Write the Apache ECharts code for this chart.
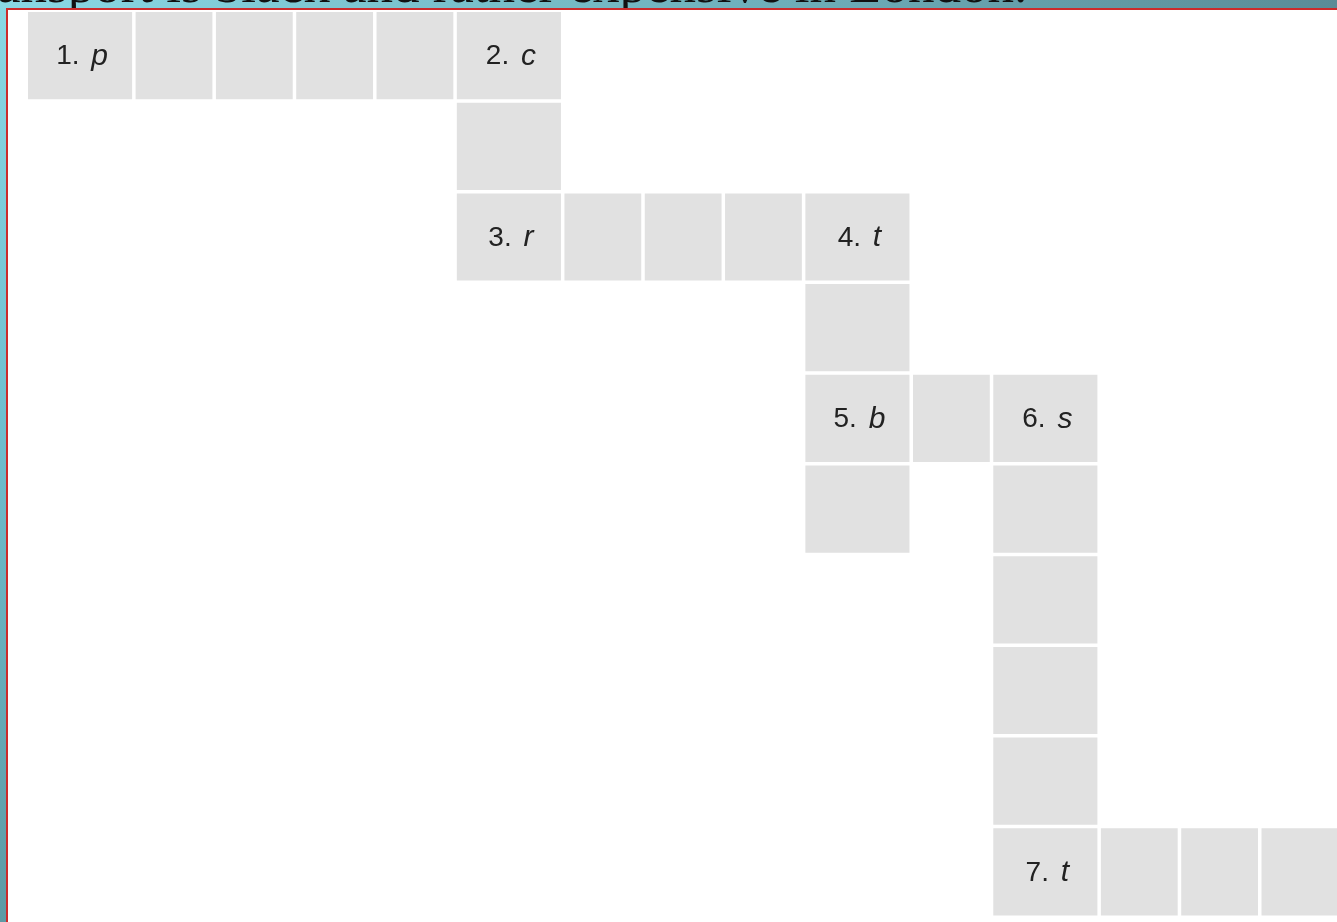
<!DOCTYPE html>
<html>
<head>
<meta charset="utf-8">
<script src="https://cdn.jsdelivr.net/npm/echarts@6/dist/echarts.min.js"></script>
<style>
html, body { margin: 0; padding: 0; overflow: hidden; background: #fff; }
#chart { width: 1337px; height: 922px; }
</style>
</head>
<body>
<div id="chart"></div>
<script>
// crossword cells: row / column of every square
var cellRow = [0, 0, 0, 0, 0, 0, 1, 2, 2, 2, 2, 2, 3, 4, 4, 4, 5, 5, 6, 7, 8, 9, 9, 9, 9];
var cellCol = [0, 1, 2, 3, 4, 5, 5, 5, 6, 7, 8, 9, 9, 9, 10, 11, 9, 11, 11, 11, 11, 11, 12, 13, 14];
// clues: number, first letter and the square that holds them
var clueNum = [1, 2, 3, 4, 5, 6, 7];
var clueLetter = ['p', 'c', 'r', 't', 'b', 's', 't'];
var clueRow = [0, 0, 2, 2, 4, 4, 9];
var clueCol = [0, 5, 5, 9, 9, 11, 11];
var headline = 'ansport is black and rather expensive in London.';

var nRows = 10;
var nCols = 15;
var wideFactor = 1.34; // columns holding a clue label are wider

// column edges in axis units
var colEdges = [0];
for (var c = 0; c < nCols; c++) {
    var w = clueCol.indexOf(c) >= 0 ? wideFactor : 1;
    colEdges.push(colEdges[c] + w);
}

var cellData = [];
for (var i = 0; i < cellRow.length; i++) {
    var label = '';
    for (var k = 0; k < clueNum.length; k++) {
        if (clueRow[k] === cellRow[i] && clueCol[k] === cellCol[i]) {
            label = '{n|' + clueNum[k] + '. }{l|' + clueLetter[k] + '}';
        }
    }
    cellData.push([colEdges[cellCol[i]], colEdges[cellCol[i] + 1], cellRow[i], label]);
}

function renderItem(params, api) {
    var x0 = api.value(0), x1 = api.value(1), r = api.value(2);
    var p0 = api.coord([x0, r]);
    var p1 = api.coord([x1, r + 1]);
    var gap = 3.5;
    var w = p1[0] - p0[0] - gap;
    var h = p1[1] - p0[1] - gap;
    var label = cellData[params.dataIndex][3];
    var children = [{
        type: 'rect',
        shape: { x: p0[0], y: p0[1], width: w, height: h },
        style: { fill: '#e1e1e1' }
    }];
    if (label) {
        children.push({
            type: 'text',
            x: p0[0] + w / 2 + 2,
            y: p0[1] + h / 2 + 1,
            style: {
                text: label,
                align: 'center',
                verticalAlign: 'middle',
                rich: {
                    n: { fontFamily: 'Liberation Sans', fontSize: 28, fill: '#222' },
                    l: { fontFamily: 'Liberation Sans', fontSize: 30, fontStyle: 'italic', fill: '#222', padding: [0, 0, 0, 4] }
                }
            }
        });
    }
    return { type: 'group', children: children };
}

var myChart = echarts.init(document.getElementById('chart'));

var option = {
    animation: false,
    graphic: [
        {
            type: 'rect', z: -10, silent: true,
            shape: { x: 0, y: 0, width: 1337, height: 10 },
            style: {
                fill: new echarts.graphic.LinearGradient(0, 0, 1, 0, [
                    { offset: 0, color: '#8ad8e4' },
                    { offset: 0.5, color: '#72b5c0' },
                    { offset: 1, color: '#5a8c97' }
                ])
            }
        },
        {
            type: 'rect', z: -10, silent: true,
            shape: { x: 0, y: 0, width: 8, height: 922 },
            style: {
                fill: new echarts.graphic.LinearGradient(0, 0, 0, 1, [
                    { offset: 0, color: '#8ad8e4' },
                    { offset: 0.45, color: '#6fbfcf' },
                    { offset: 1, color: '#5d9aa4' }
                ])
            }
        },
        {
            type: 'text', z: -9, silent: true,
            x: -3, y: -11.5,
            style: {
                text: headline,
                font: '53px "Liberation Serif"',
                fill: '#111',
                verticalAlign: 'middle'
            }
        },
        {
            type: 'rect', z: -8, silent: true,
            shape: { x: 7, y: 9, width: 1340, height: 920 },
            style: { fill: '#fff', stroke: '#cc2b2b', lineWidth: 2 }
        }
    ],
    grid: { left: 28, top: 12, right: 0, height: 907 },
    // axis ends where the last column is cut by the window edge
    xAxis: { type: 'value', min: 0, max: colEdges[nCols] - 0.06, show: false },
    yAxis: { type: 'value', min: 0, max: nRows, inverse: true, show: false },
    series: [{
        type: 'custom',
        renderItem: renderItem,
        data: cellData,
        clip: false
    }]
};

myChart.setOption(option);
</script>
</body>
</html>
